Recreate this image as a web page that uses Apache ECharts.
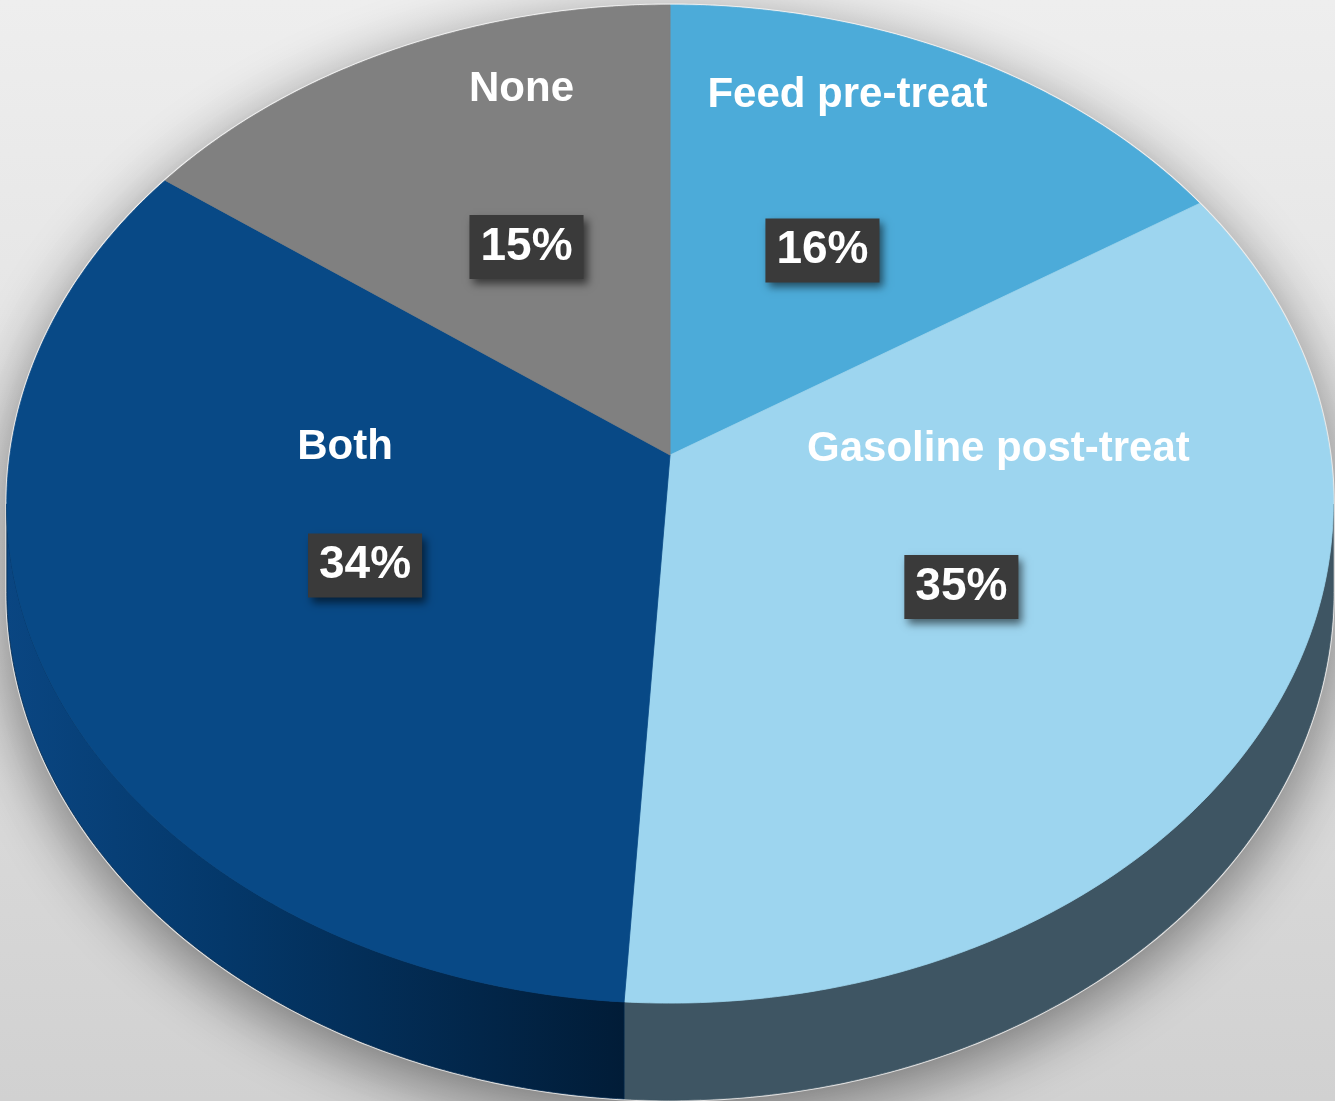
<!DOCTYPE html>
<html>
<head>
<meta charset="utf-8">
<title>Desulfurization approach</title>
<script src="https://cdn.jsdelivr.net/npm/echarts@6/dist/echarts.min.js"></script>
<style>
  html, body { margin: 0; padding: 0; background: #e4e4e4; }
  #chart { width: 1335px; height: 1101px; }
</style>
</head>
<body>
<div id="chart"></div>
<script>
// Slices, clockwise from 12 o'clock
const categories = ['Feed pre-treat', 'Gasoline post-treat', 'Both', 'None'];
const shares = [16, 35, 34, 15];

// Styling per slice
const topColors = ['#4CABD9', '#9DD5EF', '#084986', '#808080'];
const wallColors = [
  '#2f7fa6',
  '#3E5563',
  { type: 'linear', x: 0, y: 0, x2: 1, y2: 0, colorStops: [
      { offset: 0, color: '#0a4682' },
      { offset: 0.35, color: '#04386a' },
      { offset: 1, color: '#011c37' }
  ] },
  '#555555'
];
// Category caption placement relative to the percentage box
const nameOffsets = [[25, -155], [37, -138], [-20, -118], [-5, -158]];

const total = shares.reduce((a, b) => a + b, 0);
const starts = [];
shares.reduce((acc, v) => { starts.push(acc); return acc + v; }, 0);

// Tilted-disc projection: theta clockwise from top, r in [0,1]
function geometry(api) {
  const w = api.getWidth(), h = api.getHeight();
  return { cx: w * 0.5019, cy: h * 0.4133, rx: w * 0.4944, ry: h * 0.4489, k: 0.0982, depth: h * 0.0795 };
}
function pt(g, theta, r, drop) {
  const u = r * Math.sin(theta), v = r * Math.cos(theta);
  const d = 1 + g.k * v;
  return [g.cx + g.rx * u / d, g.cy - g.ry * v / d + (drop ? g.depth / d : 0)];
}
function arc(g, a0, a1, r, drop) {
  const n = Math.max(2, Math.ceil(Math.abs(a1 - a0) / (Math.PI / 360)));
  const out = [];
  for (let i = 0; i <= n; i++) out.push(pt(g, a0 + (a1 - a0) * i / n, r, drop));
  return out;
}

const TAU = Math.PI * 2;
const K = 0.0982;
const wallFrom = Math.acos(-K);        // rightmost silhouette point
const wallTo = TAU - wallFrom;          // leftmost silhouette point

const FONT = '"Liberation Sans", Arial, Helvetica, sans-serif';

function renderBase(params, api) {
  const g = geometry(api);
  const pts = arc(g, wallFrom, wallTo, 1, true).concat(arc(g, wallTo, wallFrom + TAU, 1, false));
  return {
    type: 'polygon',
    shape: { points: pts },
    style: {
      fill: '#9a9a9a',
      stroke: 'rgba(255,255,255,0.7)',
      lineWidth: 3,
      shadowBlur: 60,
      shadowOffsetY: 16,
      shadowColor: 'rgba(0,0,0,0.45)'
    }
  };
}

function renderSlice(params, api) {
  const g = geometry(api);
  const i = params.dataIndex;
  const value = api.value(0);
  const a0 = TAU * starts[i] / total;
  const a1 = TAU * (starts[i] + value) / total;
  const children = [];

  // outer wall, only where it faces the viewer
  const w0 = Math.max(a0, wallFrom), w1 = Math.min(a1, wallTo);
  if (w1 > w0) {
    const wallPts = arc(g, w0, w1, 1, false).concat(arc(g, w1, w0, 1, true));
    children.push({
      type: 'polygon',
      shape: { points: wallPts },
      style: { fill: wallColors[i], stroke: i === 2 ? '#02284d' : wallColors[i], lineWidth: 0.8 }
    });
  }

  // top face
  const topPts = [pt(g, 0, 0, false)].concat(arc(g, a0, a1, 1, false));
  children.push({
    type: 'polygon',
    shape: { points: topPts },
    style: { fill: topColors[i], stroke: topColors[i], lineWidth: 0.8 }
  });

  // labels
  const mid = (a0 + a1) / 2;
  const c = pt(g, mid, 0.5, false);
  c[1] += 3;
  children.push({
    type: 'text',
    x: c[0], y: c[1],
    z2: 10,
    style: {
      text: value + '%',
      fill: '#ffffff',
      font: 'bold 46px ' + FONT,
      align: 'center',
      verticalAlign: 'middle',
      backgroundColor: '#3a3a3a',
      padding: [10, 11, 8, 11],
      shadowColor: 'rgba(0,0,0,0.55)',
      shadowBlur: 8,
      shadowOffsetX: 4,
      shadowOffsetY: 5
    }
  });
  children.push({
    type: 'text',
    x: c[0] + nameOffsets[i][0],
    y: c[1] + nameOffsets[i][1],
    z2: 10,
    style: {
      text: categories[i],
      fill: '#ffffff',
      font: 'bold 42px ' + FONT,
      align: 'center',
      verticalAlign: 'middle'
    }
  });
  return { type: 'group', children: children };
}

const chart = echarts.init(document.getElementById('chart'), null, { renderer: 'canvas' });
chart.setOption({
  animation: false,
  backgroundColor: {
    type: 'linear', x: 0, y: 0, x2: 0, y2: 1,
    colorStops: [
      { offset: 0, color: '#eeeeee' },
      { offset: 1, color: '#d1d1d1' }
    ]
  },
  series: [
    {
      type: 'custom',
      coordinateSystem: 'none',
      silent: true,
      z: 1,
      data: [0],
      renderItem: renderBase
    },
    {
      type: 'custom',
      coordinateSystem: 'none',
      z: 2,
      data: shares.map((v, i) => ({ name: categories[i], value: [v] })),
      renderItem: renderSlice
    }
  ]
});
</script>
</body>
</html>
